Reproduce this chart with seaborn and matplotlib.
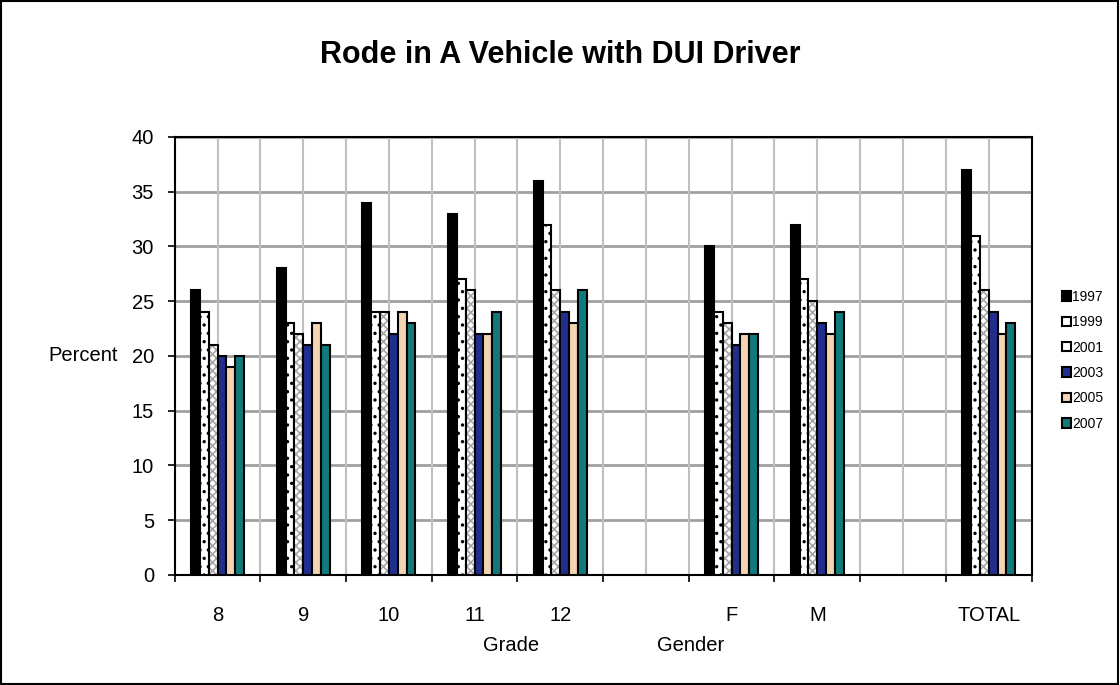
import matplotlib
matplotlib.use('Agg')
import matplotlib.pyplot as plt
import seaborn as sns
import pandas as pd
from matplotlib.patches import Rectangle

# categories (blank slots keep the gaps between groups)
categories = ['8', '9', '10', '11', '12', ' ', 'F', 'M', '  ', 'TOTAL']
years = ['1997', '1999', '2001', '2003', '2005', '2007']

v1997 = [26, 28, 34, 33, 36, None, 30, 32, None, 37]
v1999 = [24, 23, 24, 27, 32, None, 24, 27, None, 31]
v2001 = [21, 22, 24, 26, 26, None, 23, 25, None, 26]
v2003 = [20, 21, 22, 22, 24, None, 21, 23, None, 24]
v2005 = [19, 23, 24, 22, 23, None, 22, 22, None, 22]
v2007 = [20, 21, 23, 24, 26, None, 22, 24, None, 23]

colors = ['#000000', '#ffffff', '#ffffff', '#1020a0', '#ffd5a8', '#008b8b']
hatches = [None, '..', 'xxxx', None, None, None]

rows = []
for yr, vals in zip(years, [v1997, v1999, v2001, v2003, v2005, v2007]):
    for cat, v in zip(categories, vals):
        if v is not None:
            rows.append({'cat': cat, 'year': yr, 'pct': v})
df = pd.DataFrame(rows)

sns.set_style('white')
plt.rcParams['font.family'] = ['Liberation Sans', 'DejaVu Sans']
plt.rcParams['hatch.linewidth'] = 1.2
for k in ['text.color', 'axes.labelcolor', 'xtick.color', 'ytick.color']:
    plt.rcParams[k] = 'black'

fig = plt.figure(figsize=(11.2, 6.85), dpi=100)
ax = fig.add_axes([0.156, 0.1606, 0.765, 0.6394])

sns.barplot(data=df, x='cat', y='pct', hue='year', order=categories,
            hue_order=years, palette=colors, width=0.62, gap=0,
            edgecolor='black', linewidth=1.5, ax=ax, legend=True)

for i, cont in enumerate(ax.containers):
    for p in cont.patches:
        p.set_edgecolor('black')
        p.set_zorder(3)
        if hatches[i]:
            p.set_hatch(hatches[i])
            if i == 2:
                p._hatch_color = (0.65, 0.65, 0.65, 1)

ax.set_ylim(0, 40)
ax.set_xlim(-0.5, len(categories) - 0.5)
ax.set_yticks(range(0, 41, 5))
ax.tick_params(axis='y', labelsize=14.5, length=5, width=1.2, pad=10, direction='out', left=True)
ax.set_xticks(range(len(categories)))
ax.set_xticklabels(['8', '9', '10', '11', '12', '', 'F', 'M', '', 'TOTAL'], fontsize=14.5)
ax.tick_params(axis='x', which='major', length=0, pad=22)
ax.set_xticks([i - 0.5 for i in range(len(categories) + 1)], minor=True)
ax.tick_params(axis='x', which='minor', length=5, width=1.2, direction='out', bottom=True)

# grid
for y in range(5, 41, 5):
    ax.axhline(y, color='#a0a0a0', lw=2, zorder=1)
for i in range(2 * len(categories)):
    ax.axvline(i / 2 - 0.5, color='#c0c0c0', lw=1.5, zorder=1)

for s in ax.spines.values():
    s.set_visible(True)
    s.set_color('black')
    s.set_linewidth(1.5)

ax.set_xlabel('')
ax.set_ylabel('')
ax.text(-0.066, 0.5, 'Percent', transform=ax.transAxes, ha='right', va='center', fontsize=14.5)

fig.text(0.5, 0.919, 'Rode in A Vehicle with DUI Driver', ha='center', va='center',
         fontsize=22, fontweight='bold')
fig.text(0.456, 0.057, 'Grade', ha='center', va='center', fontsize=14.5)
fig.text(0.617, 0.057, 'Gender', ha='center', va='center', fontsize=14.5)

handles, labels = ax.get_legend_handles_labels()
for h in handles:
    h.set_edgecolor('black')
ax.legend(handles, labels, loc='center left', bbox_to_anchor=(0.948, 0.474),
          bbox_transform=fig.transFigure, frameon=False, fontsize=10,
          handlelength=0.65, handleheight=0.65, handletextpad=0.1, labelspacing=0.82,
          borderpad=0, borderaxespad=0)

fig.patches.append(Rectangle((0.001, 0.001), 0.997, 0.997, transform=fig.transFigure,
                             fill=False, edgecolor='black', lw=1.5))

fig.savefig('out.png', dpi=100)
